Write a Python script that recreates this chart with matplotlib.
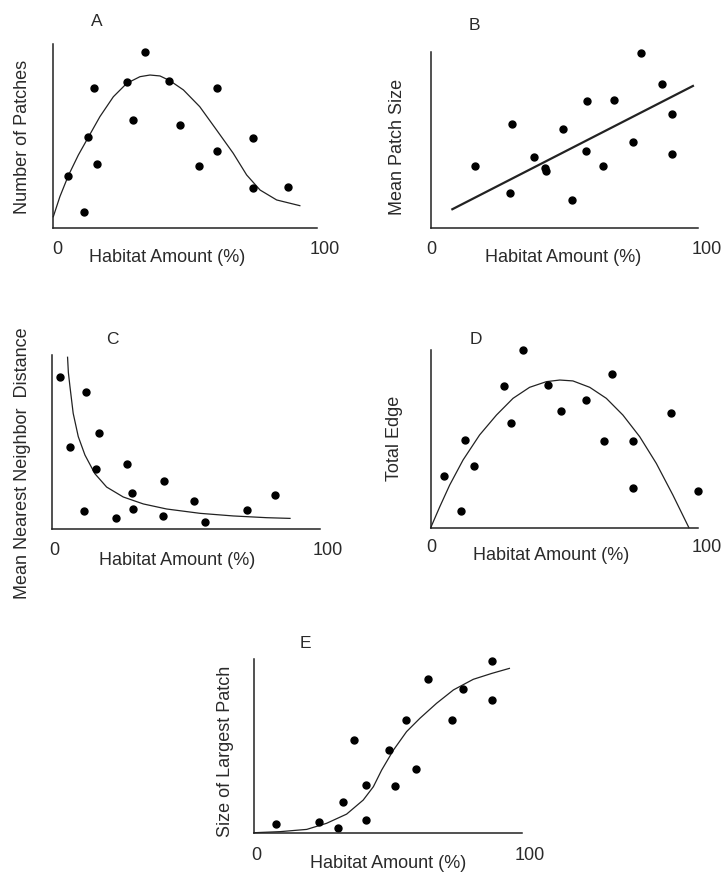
import matplotlib.pyplot as plt

plt.rcParams['font.family'] = ['Liberation Sans', 'DejaVu Sans']

W, H = 726, 872
TEXT_COLOUR = '#2a2a2a'

# --- data (x = habitat amount %, y = relative value 0-100) ---
a_x = [5.7, 11.8, 13.3, 15.3, 16.6, 27.9, 30.4, 34.9, 44.0, 48.1, 55.3, 62.0, 62.0, 75.9, 75.7, 89.2]
a_y = [28.6, 9.0, 49.5, 76.4, 34.9, 79.5, 58.9, 95.7, 80.2, 56.3, 34.0, 76.4, 41.8, 49.0, 21.9, 22.6]
a_fit_x = [0, 2.5, 5.7, 9.5, 13.3, 17.7, 22.8, 27.9, 32.9, 36.7, 40.5, 44.3, 49.4, 55.6, 62.0, 68.3, 73.4, 78.5, 84.8, 93.6]
a_fit_y = [6.3, 17.2, 28.6, 39.8, 49.5, 60.7, 71.5, 78.8, 82.4, 83.3, 82.8, 80.2, 75.2, 66.1, 53.4, 40.8, 29.0, 20.8, 15.4, 12.3]

b_x = [16.5, 30.3, 29.7, 38.7, 42.9, 43.1, 49.5, 52.9, 58.0, 58.4, 64.5, 68.7, 75.7, 78.6, 86.7, 90.1, 90.4]
b_y = [35.3, 58.9, 20.2, 40.2, 34.3, 32.3, 56.0, 16.0, 44.0, 72.1, 35.3, 72.6, 49.1, 99.1, 81.7, 64.7, 42.1]
b_fit_x = [8.1, 98.1]
b_fit_y = [10.8, 80.6]

c_x = [3.0, 6.7, 12.6, 12.0, 17.6, 16.4, 27.8, 23.9, 29.9, 30.3, 41.7, 41.3, 52.9, 57.2, 72.6, 83.3]
c_y = [87.2, 47.3, 78.5, 10.3, 55.4, 34.5, 37.5, 6.3, 20.5, 11.5, 27.6, 7.7, 15.9, 4.0, 10.7, 19.7]
c_fit_x = [5.7, 6.0, 6.6, 7.8, 9.7, 12.2, 15.9, 20.3, 26.5, 34.0, 42.7, 55.2, 67.6, 80.1, 88.8]
c_fit_y = [98.7, 90.0, 81.8, 66.5, 53.1, 42.5, 31.8, 24.1, 18.4, 14.4, 11.5, 9.0, 7.5, 6.5, 6.1]

d_x = [5.0, 11.2, 13.0, 16.2, 27.6, 30.0, 34.4, 43.8, 48.6, 58.1, 67.8, 64.7, 75.6, 75.6, 89.8, 100]
d_y = [29.1, 9.4, 49.3, 34.9, 79.7, 58.7, 100, 80.5, 65.5, 72.0, 86.7, 48.8, 48.8, 22.5, 64.7, 20.6]
d_fit_x = [0, 3.4, 7.1, 12.1, 18.3, 24.6, 30.8, 37.0, 43.3, 48.3, 53.2, 59.5, 65.7, 71.9, 78.2, 84.4, 90.6, 96.6]
d_fit_y = [0, 11.8, 24.0, 38.1, 52.2, 63.4, 72.8, 79.0, 82.2, 83.1, 82.6, 79.0, 72.8, 63.4, 51.2, 36.2, 18.4, 0]

e_x = [8.3, 24.2, 31.3, 33.1, 37.5, 41.8, 41.7, 50.4, 52.8, 56.9, 60.5, 64.9, 74.0, 78.0, 88.9, 89.0]
e_y = [4.8, 6.0, 2.9, 17.7, 53.4, 27.3, 7.3, 47.6, 26.7, 64.9, 36.9, 88.3, 64.9, 82.7, 76.2, 99.0]
e_fit_x = [0, 9.7, 19.7, 27.1, 34.6, 40.8, 44.6, 47.7, 52.1, 57.0, 62.0, 68.2, 74.5, 81.9, 88.8, 95.4]
e_fit_y = [0, 0.6, 1.9, 5.4, 10.7, 18.8, 26.5, 36.1, 47.6, 58.2, 65.9, 74.5, 82.2, 88.3, 91.7, 94.6]

letters = ['A', 'B', 'C', 'D', 'E']
y_labels = ['Number of Patches', 'Mean Patch Size', 'Mean Nearest Neighbor  Distance',
            'Total Edge', 'Size of Largest Patch']
x_label = 'Habitat Amount (%)'

# layout in pixels: axes box (left, right, top, bottom), then text anchors
panels = [
    dict(box=(53.3, 316.7, 44.3, 228.3), letter=(97, 22), zero=(57, 249), hundred=(325, 249),
         xlab=(166.7, 258), ylab=(23, 137), lw=0.9),
    dict(box=(430.7, 698, 51.7, 228.3), letter=(474.7, 25), zero=(431.3, 250), hundred=(707, 250),
         xlab=(563, 258), ylab=(398, 146.7), lw=1.6),
    dict(box=(52.3, 320, 355, 529), letter=(112.7, 340), zero=(54.3, 550), hundred=(328, 550),
         xlab=(176.7, 560), ylab=(23, 463), lw=0.9),
    dict(box=(430.7, 698, 350, 527.7), letter=(476.3, 339.3), zero=(431.3, 548), hundred=(707, 548),
         xlab=(551.3, 555), ylab=(394.7, 438.3), lw=0.9),
    dict(box=(254, 521.7, 659, 832.7), letter=(305, 643.3), zero=(256.7, 855), hundred=(530, 855),
         xlab=(388.3, 863.3), ylab=(225, 751), lw=0.9),
]

series = [(a_x, a_y, a_fit_x, a_fit_y), (b_x, b_y, b_fit_x, b_fit_y), (c_x, c_y, c_fit_x, c_fit_y),
          (d_x, d_y, d_fit_x, d_fit_y), (e_x, e_y, e_fit_x, e_fit_y)]


def fig_xy(p):
    return p[0] / W, 1 - p[1] / H


fig = plt.figure(figsize=(W / 100, H / 100), dpi=100)

for i, (panel, (sx, sy, fx, fy)) in enumerate(zip(panels, series)):
    left, right, top, bottom = panel['box']
    ax = fig.add_axes([left / W, 1 - bottom / H, (right - left) / W, (bottom - top) / H])
    ax.set_xlim(0, 100)
    ax.set_ylim(0, 100)
    for side in ['top', 'right']:
        ax.spines[side].set_visible(False)
    for side in ['left', 'bottom']:
        ax.spines[side].set_linewidth(1.1)
        ax.spines[side].set_color('#222222')
    ax.set_xticks([])
    ax.set_yticks([])
    ax.patch.set_alpha(0)

    ax.plot(fx, fy, color='#222222', lw=panel['lw'], clip_on=False)
    ax.plot(sx, sy, 'o', color='black', ms=5, clip_on=False)

    fig.text(*fig_xy(panel['letter']), letters[i], fontsize=12.5, color=TEXT_COLOUR, ha='center', va='center')
    fig.text(*fig_xy(panel['zero']), '0', fontsize=13, color=TEXT_COLOUR, ha='center', va='center')
    fig.text(*fig_xy(panel['hundred']), '100', fontsize=13, color=TEXT_COLOUR, ha='center', va='center')
    fig.text(*fig_xy(panel['xlab']), x_label, fontsize=13, color=TEXT_COLOUR, ha='center', va='center')
    fig.text(*fig_xy(panel['ylab']), y_labels[i], fontsize=13, color=TEXT_COLOUR, ha='center', va='center',
             rotation=90)

fig.savefig('out.png', dpi=100)
